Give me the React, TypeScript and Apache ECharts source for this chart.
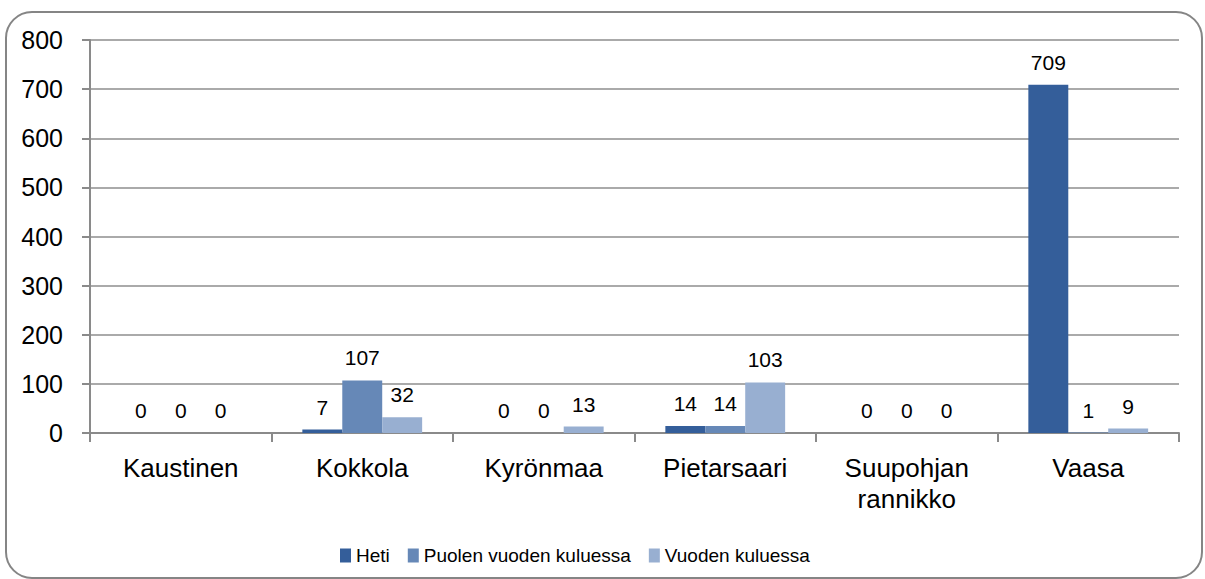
import React, { useEffect, useRef } from "react";
import * as echarts from "echarts";

const categories = ["Kaustinen", "Kokkola", "Kyrönmaa", "Pietarsaari", "Suupohjan\nrannikko", "Vaasa"];
const seriesNames = ["Heti", "Puolen vuoden kuluessa", "Vuoden kuluessa"];
const heti = [0, 7, 0, 14, 0, 709];
const puolen = [0, 107, 0, 14, 0, 1];
const vuoden = [0, 32, 13, 103, 0, 9];
const colors = ["#345E9A", "#6688B7", "#98AFD1"];
const yTicks = { min: 0, max: 800, interval: 100 };

export default function App() {
  const ref = useRef<HTMLDivElement>(null);
  useEffect(() => {
    document.body.style.margin = "0";
    const chart = echarts.init(ref.current!, null, { renderer: "svg" });
    const font = "'Liberation Sans', Arial, sans-serif";
    const values = [heti, puolen, vuoden];
    chart.setOption({
      animation: false,
      backgroundColor: "#ffffff",
      textStyle: { fontFamily: font },
      grid: { left: 90, right: 26, top: 40, bottom: 146, containLabel: false },
      legend: {
        left: 335,
        top: 541,
        itemWidth: 11,
        itemHeight: 14,
        itemGap: 18,
        icon: "rect",
        textStyle: { fontSize: 19, color: "#000", fontFamily: font },
        data: seriesNames,
      },
      xAxis: {
        type: "category",
        data: categories,
        axisLine: { lineStyle: { color: "#8a8a8a", width: 2 } },
        axisTick: { show: true, length: 9, alignWithLabel: false, lineStyle: { color: "#8a8a8a", width: 2 } },
        axisLabel: { fontSize: 26, color: "#000", margin: 19, lineHeight: 31, fontFamily: font },
      },
      yAxis: {
        type: "value",
        min: yTicks.min,
        max: yTicks.max,
        interval: yTicks.interval,
        axisLine: { show: true, lineStyle: { color: "#8a8a8a", width: 2 } },
        axisTick: { show: true, length: 8, lineStyle: { color: "#8a8a8a", width: 2 } },
        splitLine: { lineStyle: { color: "#8e8e8e", width: 1.5 } },
        axisLabel: { fontSize: 25, color: "#000", margin: 27, fontFamily: font },
      },
      series: seriesNames.map((name, i) => ({
        name,
        type: "bar",
        data: values[i],
        barGap: "0%",
        barCategoryGap: "34%",
        itemStyle: { color: colors[i] },
        label: {
          show: true,
          position: "top",
          distance: 12,
          fontSize: 21,
          color: "#000",
          fontFamily: font,
        },
      })),
      graphic: [
        {
          type: "rect",
          shape: { x: 6, y: 12, width: 1196, height: 566, r: 26 },
          style: { fill: "none", stroke: "#858585", lineWidth: 2 },
          z: 100,
          silent: true,
        },
      ],
    });
    return () => chart.dispose();
  }, []);
  return <div ref={ref} style={{ width: 1205, height: 579 }} />;
}
